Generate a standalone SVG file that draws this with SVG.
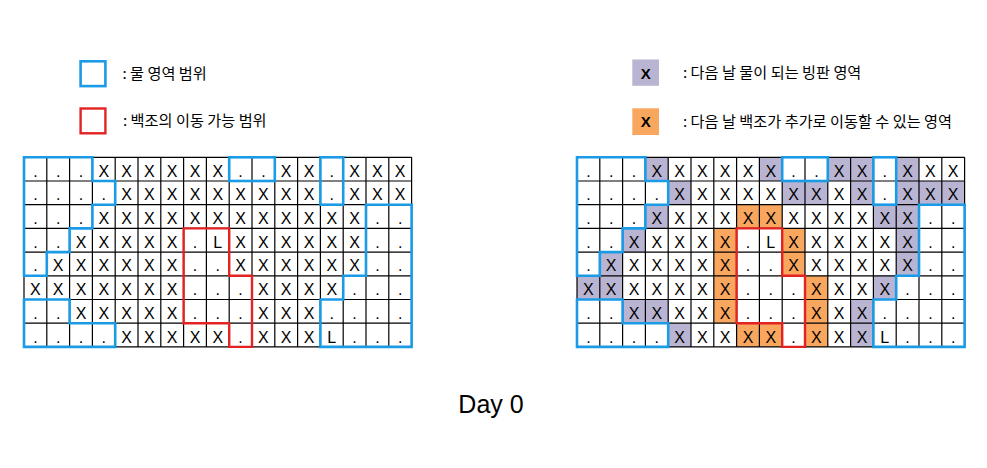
<svg xmlns="http://www.w3.org/2000/svg" width="987" height="468" viewBox="0 0 987 468">
<style>
.c{font-family:"Liberation Sans",Arial,sans-serif;font-size:16px;text-anchor:middle;fill:#000}
.lg{font-family:"Noto Sans CJK KR","Noto Sans",sans-serif;font-size:15.2px;fill:#000}
.lx{font-family:"Liberation Sans",Arial,sans-serif;font-size:15px;font-weight:bold;text-anchor:middle;fill:#000}
.grid{fill:none;stroke:#000;stroke-width:1.2}
.water{fill:none;stroke:#1b9ae6;stroke-width:2.6}
.swan{fill:none;stroke:#e32222;stroke-width:2.4}
.pu{fill:#b8b4d2}
.or{fill:#f9a65f}
.title{font-family:"Liberation Sans",Arial,sans-serif;font-size:25px;text-anchor:middle;fill:#000}
</style>
<rect width="987" height="468" fill="#fff"/>
<g id="legend-water">
<rect x="80.6" y="61.3" width="24.8" height="24.8" class="water"/>
<text x="122.5" y="79.3" class="lg">: 물 영역 범위</text>
</g>
<g id="legend-swan">
<rect x="80.6" y="108.5" width="24.8" height="24.8" class="swan"/>
<text x="123" y="126.3" class="lg">: 백조의 이동 가능 범위</text>
</g>
<g id="legend-ice">
<rect x="632.3" y="59.5" width="26.7" height="26.3" class="pu"/>
<text x="645.7" y="78.6" class="lx">X</text>
<text x="683" y="78.3" class="lg">: 다음 날 물이 되는 빙판 영역</text>
</g>
<g id="legend-move">
<rect x="632.3" y="108.3" width="26.7" height="26.7" class="or"/>
<text x="645.7" y="127.2" class="lx">X</text>
<text x="683" y="127.3" class="lg">: 다음 날 백조가 추가로 이동할 수 있는 영역</text>
</g>

<g id="grid-left">
<path class="grid" d="M24,157.3V346.9M46.8,157.3V346.9M69.6,157.3V346.9M92.4,157.3V346.9M115.2,157.3V346.9M138,157.3V346.9M160.8,157.3V346.9M183.6,157.3V346.9M206.4,157.3V346.9M229.2,157.3V346.9M252,157.3V346.9M274.8,157.3V346.9M297.6,157.3V346.9M320.4,157.3V346.9M343.2,157.3V346.9M366,157.3V346.9M388.8,157.3V346.9M411.6,157.3V346.9M24,157.3H411.6M24,181H411.6M24,204.7H411.6M24,228.4H411.6M24,252.1H411.6M24,275.8H411.6M24,299.5H411.6M24,323.2H411.6M24,346.9H411.6"/>
<g class="c">
<g transform="translate(0,176.6)"><text x="35.4">.</text><text x="58.2">.</text><text x="81">.</text><text x="103.8">X</text><text x="126.6">X</text><text x="149.4">X</text><text x="172.2">X</text><text x="195">X</text><text x="217.8">X</text><text x="240.6">.</text><text x="263.4">.</text><text x="286.2">X</text><text x="309">X</text><text x="331.8">.</text><text x="354.6">X</text><text x="377.4">X</text><text x="400.2">X</text></g>
<g transform="translate(0,200.3)"><text x="35.4">.</text><text x="58.2">.</text><text x="81">.</text><text x="103.8">.</text><text x="126.6">X</text><text x="149.4">X</text><text x="172.2">X</text><text x="195">X</text><text x="217.8">X</text><text x="240.6">X</text><text x="263.4">X</text><text x="286.2">X</text><text x="309">X</text><text x="331.8">.</text><text x="354.6">X</text><text x="377.4">X</text><text x="400.2">X</text></g>
<g transform="translate(0,224)"><text x="35.4">.</text><text x="58.2">.</text><text x="81">.</text><text x="103.8">X</text><text x="126.6">X</text><text x="149.4">X</text><text x="172.2">X</text><text x="195">X</text><text x="217.8">X</text><text x="240.6">X</text><text x="263.4">X</text><text x="286.2">X</text><text x="309">X</text><text x="331.8">X</text><text x="354.6">X</text><text x="377.4">.</text><text x="400.2">.</text></g>
<g transform="translate(0,247.7)"><text x="35.4">.</text><text x="58.2">.</text><text x="81">X</text><text x="103.8">X</text><text x="126.6">X</text><text x="149.4">X</text><text x="172.2">X</text><text x="195">.</text><text x="217.8">L</text><text x="240.6">X</text><text x="263.4">X</text><text x="286.2">X</text><text x="309">X</text><text x="331.8">X</text><text x="354.6">X</text><text x="377.4">.</text><text x="400.2">.</text></g>
<g transform="translate(0,271.4)"><text x="35.4">.</text><text x="58.2">X</text><text x="81">X</text><text x="103.8">X</text><text x="126.6">X</text><text x="149.4">X</text><text x="172.2">X</text><text x="195">.</text><text x="217.8">.</text><text x="240.6">X</text><text x="263.4">X</text><text x="286.2">X</text><text x="309">X</text><text x="331.8">X</text><text x="354.6">X</text><text x="377.4">.</text><text x="400.2">.</text></g>
<g transform="translate(0,295.1)"><text x="35.4">X</text><text x="58.2">X</text><text x="81">X</text><text x="103.8">X</text><text x="126.6">X</text><text x="149.4">X</text><text x="172.2">X</text><text x="195">.</text><text x="217.8">.</text><text x="240.6">.</text><text x="263.4">X</text><text x="286.2">X</text><text x="309">X</text><text x="331.8">X</text><text x="354.6">.</text><text x="377.4">.</text><text x="400.2">.</text></g>
<g transform="translate(0,318.8)"><text x="35.4">.</text><text x="58.2">.</text><text x="81">X</text><text x="103.8">X</text><text x="126.6">X</text><text x="149.4">X</text><text x="172.2">X</text><text x="195">.</text><text x="217.8">.</text><text x="240.6">.</text><text x="263.4">X</text><text x="286.2">X</text><text x="309">X</text><text x="331.8">.</text><text x="354.6">.</text><text x="377.4">.</text><text x="400.2">.</text></g>
<g transform="translate(0,342.5)"><text x="35.4">.</text><text x="58.2">.</text><text x="81">.</text><text x="103.8">.</text><text x="126.6">X</text><text x="149.4">X</text><text x="172.2">X</text><text x="195">X</text><text x="217.8">X</text><text x="240.6">.</text><text x="263.4">X</text><text x="286.2">X</text><text x="309">X</text><text x="331.8">L</text><text x="354.6">.</text><text x="377.4">.</text><text x="400.2">.</text></g>
</g>
<path class="water" d="M24,157.3H92.4V181H115.2V204.7H92.4V228.4H69.6V252.1H46.8V275.8H24Z"/>
<path class="water" d="M24,299.5H69.6V323.2H115.2V346.9H24Z"/>
<rect class="water" x="229.2" y="157.3" width="45.6" height="23.7"/>
<rect class="water" x="320.4" y="157.3" width="22.8" height="47.4"/>
<path class="water" d="M366,204.7H411.6V346.9H320.4V299.5H343.2V275.8H366Z"/>
<path class="swan" d="M183.6,228.4H229.2V275.8H252V346.9H229.2V323.2H183.6Z"/>
</g>

<g id="grid-right" transform="translate(553,0)">
<g class="pu">
<rect x="92.4" y="157.3" width="22.8" height="23.7"/><rect x="206.4" y="157.3" width="22.8" height="23.7"/><rect x="274.8" y="157.3" width="45.6" height="23.7"/><rect x="343.2" y="157.3" width="22.8" height="23.7"/>
<rect x="115.2" y="181" width="22.8" height="23.7"/><rect x="229.2" y="181" width="45.6" height="23.7"/><rect x="297.6" y="181" width="22.8" height="23.7"/><rect x="343.2" y="181" width="68.4" height="23.7"/>
<rect x="92.4" y="204.7" width="22.8" height="23.7"/><rect x="320.4" y="204.7" width="45.6" height="23.7"/>
<rect x="69.6" y="228.4" width="22.8" height="23.7"/><rect x="343.2" y="228.4" width="22.8" height="23.7"/>
<rect x="46.8" y="252.1" width="22.8" height="23.7"/><rect x="343.2" y="252.1" width="22.8" height="23.7"/>
<rect x="24" y="275.8" width="45.6" height="23.7"/><rect x="320.4" y="275.8" width="22.8" height="23.7"/>
<rect x="69.6" y="299.5" width="45.6" height="23.7"/><rect x="297.6" y="299.5" width="22.8" height="23.7"/>
<rect x="115.2" y="323.2" width="22.8" height="23.7"/><rect x="297.6" y="323.2" width="22.8" height="23.7"/>
</g>
<g class="or">
<rect x="183.6" y="204.7" width="45.6" height="23.7"/>
<rect x="160.8" y="228.4" width="22.8" height="94.8"/>
<rect x="229.2" y="228.4" width="22.8" height="47.4"/>
<rect x="252" y="275.8" width="22.8" height="71.1"/>
<rect x="183.6" y="323.2" width="45.6" height="23.7"/>
</g>
<path class="grid" d="M24,157.3V346.9M46.8,157.3V346.9M69.6,157.3V346.9M92.4,157.3V346.9M115.2,157.3V346.9M138,157.3V346.9M160.8,157.3V346.9M183.6,157.3V346.9M206.4,157.3V346.9M229.2,157.3V346.9M252,157.3V346.9M274.8,157.3V346.9M297.6,157.3V346.9M320.4,157.3V346.9M343.2,157.3V346.9M366,157.3V346.9M388.8,157.3V346.9M411.6,157.3V346.9M24,157.3H411.6M24,181H411.6M24,204.7H411.6M24,228.4H411.6M24,252.1H411.6M24,275.8H411.6M24,299.5H411.6M24,323.2H411.6M24,346.9H411.6"/>
<g class="c">
<g transform="translate(0,176.6)"><text x="35.4">.</text><text x="58.2">.</text><text x="81">.</text><text x="103.8">X</text><text x="126.6">X</text><text x="149.4">X</text><text x="172.2">X</text><text x="195">X</text><text x="217.8">X</text><text x="240.6">.</text><text x="263.4">.</text><text x="286.2">X</text><text x="309">X</text><text x="331.8">.</text><text x="354.6">X</text><text x="377.4">X</text><text x="400.2">X</text></g>
<g transform="translate(0,200.3)"><text x="35.4">.</text><text x="58.2">.</text><text x="81">.</text><text x="103.8">.</text><text x="126.6">X</text><text x="149.4">X</text><text x="172.2">X</text><text x="195">X</text><text x="217.8">X</text><text x="240.6">X</text><text x="263.4">X</text><text x="286.2">X</text><text x="309">X</text><text x="331.8">.</text><text x="354.6">X</text><text x="377.4">X</text><text x="400.2">X</text></g>
<g transform="translate(0,224)"><text x="35.4">.</text><text x="58.2">.</text><text x="81">.</text><text x="103.8">X</text><text x="126.6">X</text><text x="149.4">X</text><text x="172.2">X</text><text x="195">X</text><text x="217.8">X</text><text x="240.6">X</text><text x="263.4">X</text><text x="286.2">X</text><text x="309">X</text><text x="331.8">X</text><text x="354.6">X</text><text x="377.4">.</text><text x="400.2">.</text></g>
<g transform="translate(0,247.7)"><text x="35.4">.</text><text x="58.2">.</text><text x="81">X</text><text x="103.8">X</text><text x="126.6">X</text><text x="149.4">X</text><text x="172.2">X</text><text x="195">.</text><text x="217.8">L</text><text x="240.6">X</text><text x="263.4">X</text><text x="286.2">X</text><text x="309">X</text><text x="331.8">X</text><text x="354.6">X</text><text x="377.4">.</text><text x="400.2">.</text></g>
<g transform="translate(0,271.4)"><text x="35.4">.</text><text x="58.2">X</text><text x="81">X</text><text x="103.8">X</text><text x="126.6">X</text><text x="149.4">X</text><text x="172.2">X</text><text x="195">.</text><text x="217.8">.</text><text x="240.6">X</text><text x="263.4">X</text><text x="286.2">X</text><text x="309">X</text><text x="331.8">X</text><text x="354.6">X</text><text x="377.4">.</text><text x="400.2">.</text></g>
<g transform="translate(0,295.1)"><text x="35.4">X</text><text x="58.2">X</text><text x="81">X</text><text x="103.8">X</text><text x="126.6">X</text><text x="149.4">X</text><text x="172.2">X</text><text x="195">.</text><text x="217.8">.</text><text x="240.6">.</text><text x="263.4">X</text><text x="286.2">X</text><text x="309">X</text><text x="331.8">X</text><text x="354.6">.</text><text x="377.4">.</text><text x="400.2">.</text></g>
<g transform="translate(0,318.8)"><text x="35.4">.</text><text x="58.2">.</text><text x="81">X</text><text x="103.8">X</text><text x="126.6">X</text><text x="149.4">X</text><text x="172.2">X</text><text x="195">.</text><text x="217.8">.</text><text x="240.6">.</text><text x="263.4">X</text><text x="286.2">X</text><text x="309">X</text><text x="331.8">.</text><text x="354.6">.</text><text x="377.4">.</text><text x="400.2">.</text></g>
<g transform="translate(0,342.5)"><text x="35.4">.</text><text x="58.2">.</text><text x="81">.</text><text x="103.8">.</text><text x="126.6">X</text><text x="149.4">X</text><text x="172.2">X</text><text x="195">X</text><text x="217.8">X</text><text x="240.6">.</text><text x="263.4">X</text><text x="286.2">X</text><text x="309">X</text><text x="331.8">L</text><text x="354.6">.</text><text x="377.4">.</text><text x="400.2">.</text></g>
</g>
<path class="water" d="M24,157.3H92.4V181H115.2V204.7H92.4V228.4H69.6V252.1H46.8V275.8H24Z"/>
<path class="water" d="M24,299.5H69.6V323.2H115.2V346.9H24Z"/>
<rect class="water" x="229.2" y="157.3" width="45.6" height="23.7"/>
<rect class="water" x="320.4" y="157.3" width="22.8" height="47.4"/>
<path class="water" d="M366,204.7H411.6V346.9H320.4V299.5H343.2V275.8H366Z"/>
<path class="swan" d="M183.6,228.4H229.2V275.8H252V346.9H229.2V323.2H183.6Z"/>
</g>

<g id="title">
<text x="491" y="412.7" class="title">Day 0</text>
</g>
<g id="connectors"/>
</svg>
